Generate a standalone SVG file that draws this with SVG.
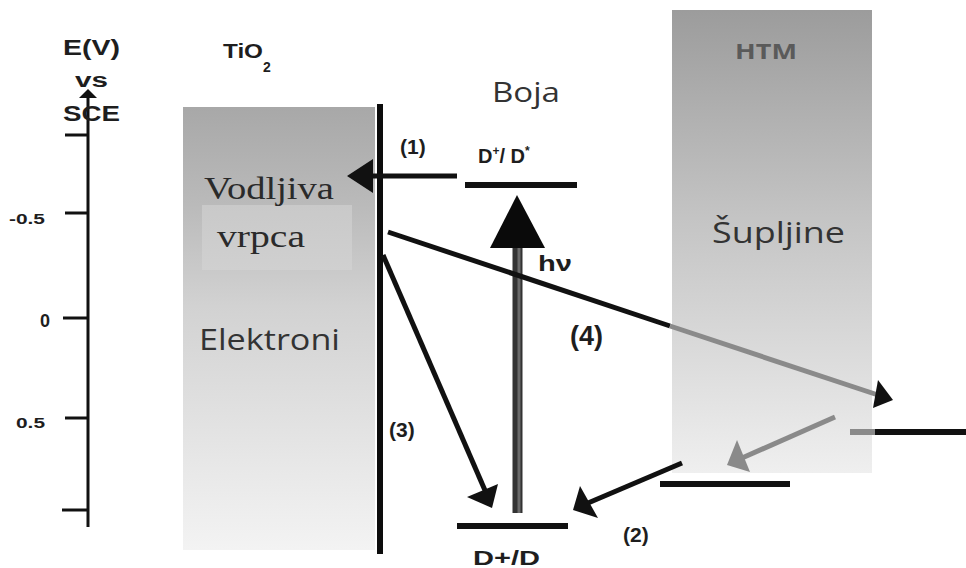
<svg xmlns="http://www.w3.org/2000/svg" width="966" height="568" viewBox="0 0 966 568">
<defs>
<linearGradient id="gTi" x1="0" y1="0" x2="0" y2="1">
<stop offset="0" stop-color="#a8a8a8"/>
<stop offset="0.22" stop-color="#bababa"/>
<stop offset="0.45" stop-color="#d2d2d2"/>
<stop offset="1" stop-color="#f3f3f3"/>
</linearGradient>
<linearGradient id="gHtm" x1="0" y1="0" x2="0" y2="1">
<stop offset="0" stop-color="#9c9c9c"/>
<stop offset="0.45" stop-color="#c4c4c4"/>
<stop offset="1" stop-color="#efefef"/>
</linearGradient>
<linearGradient id="gIn" x1="0" y1="0" x2="0" y2="1">
<stop offset="0" stop-color="#c9c9c9"/>
<stop offset="1" stop-color="#d0d0d0"/>
</linearGradient>
</defs>
<style>
.b{font-family:"Liberation Sans",Arial,sans-serif;font-weight:bold;fill:#1e1e1e}
.c{font-family:"Open Sans","Liberation Sans",sans-serif;fill:#333}
.s{font-family:"Liberation Serif","Times New Roman",serif;fill:#2a2a2a}
.k{stroke:#111;fill:none;stroke-width:5}
.g{stroke:#8a8a8a;fill:none;stroke-width:5}
</style>
<rect width="966" height="568" fill="#fff"/>

<g id="axis">
<line x1="88" y1="96" x2="88" y2="527" stroke="#111" stroke-width="3"/>
<polygon points="88,89 79,98 97,98" fill="#111"/>
<line x1="65" y1="135" x2="88" y2="135" stroke="#111" stroke-width="3"/>
<line x1="65" y1="213" x2="88" y2="213" stroke="#111" stroke-width="3"/>
<line x1="63" y1="318" x2="88" y2="318" stroke="#111" stroke-width="3"/>
<line x1="65" y1="418" x2="88" y2="418" stroke="#111" stroke-width="3"/>
<line x1="62" y1="510" x2="88" y2="510" stroke="#111" stroke-width="3"/>
<text class="b" x="63" y="55" font-size="22" textLength="57" lengthAdjust="spacingAndGlyphs">E(V)</text>
<text class="b" x="75" y="87" font-size="20" textLength="33" lengthAdjust="spacingAndGlyphs">vs</text>
<text class="b" x="63" y="121" font-size="22" textLength="57" lengthAdjust="spacingAndGlyphs">SCE</text>
<text class="b" x="9" y="224" font-size="15" textLength="36" lengthAdjust="spacingAndGlyphs">-0.5</text>
<text class="b" x="40" y="327" font-size="18">0</text>
<text class="b" x="16" y="428" font-size="15" textLength="29" lengthAdjust="spacingAndGlyphs">0.5</text>
</g>

<g id="tio2">
<rect x="183" y="107" width="192" height="443" fill="url(#gTi)"/>
<rect x="202" y="205" width="150" height="65" fill="url(#gIn)"/>
<line x1="380" y1="104" x2="380" y2="554" stroke="#0c0c0c" stroke-width="6"/>
<text class="b" x="223" y="58" font-size="21" textLength="40" lengthAdjust="spacingAndGlyphs">TiO</text>
<text class="b" x="263" y="72" font-size="14">2</text>
<text class="s" x="204" y="199" font-size="31" textLength="130" lengthAdjust="spacingAndGlyphs">Vodljiva</text>
<text class="s" x="217" y="247" font-size="31" textLength="88" lengthAdjust="spacingAndGlyphs">vrpca</text>
<text class="c" x="199" y="350" font-size="30" textLength="141" lengthAdjust="spacingAndGlyphs">Elektroni</text>
</g>

<g id="htm">
<rect x="672" y="10" width="200" height="463" fill="url(#gHtm)"/>
<text class="c" x="735" y="59" font-size="22" style="fill:#5a5a5a;font-weight:bold" textLength="62" lengthAdjust="spacingAndGlyphs">HTM</text>
<text class="c" x="712" y="243" font-size="30" textLength="133" lengthAdjust="spacingAndGlyphs">Šupljine</text>
<line x1="660" y1="484" x2="790" y2="484" stroke="#111" stroke-width="6"/>
</g>

<g id="dye">
<text class="c" x="492" y="102" font-size="28" textLength="68" lengthAdjust="spacingAndGlyphs">Boja</text>
<line x1="465" y1="185" x2="577" y2="185" stroke="#111" stroke-width="6"/>
<text class="b" x="478" y="163" font-size="20">D<tspan font-size="12" dy="-8">+</tspan><tspan dy="8">/ D</tspan><tspan font-size="12" dy="-8">*</tspan></text>
<line x1="457" y1="526" x2="568" y2="526" stroke="#111" stroke-width="6"/>
<text class="b" x="473" y="565" font-size="21" textLength="67" lengthAdjust="spacingAndGlyphs">D+/D</text>
</g>

<g id="right-level">
<line x1="850" y1="432" x2="875" y2="432" stroke="#8a8a8a" stroke-width="6"/>
<line x1="875" y1="432" x2="966" y2="432" stroke="#111" stroke-width="6"/>
</g>

<g id="connectors">
<line class="k" x1="457" y1="176" x2="368" y2="176" stroke-width="6"/>
<polygon points="347,176 373,159 373,193" fill="#111"/>
<text class="b" x="400" y="154" font-size="21">(1)</text>
<line x1="517.5" y1="513" x2="517.5" y2="245" stroke="#333" stroke-width="10"/>
<line x1="519" y1="513" x2="519" y2="245" stroke="#6a6a6a" stroke-width="3"/>
<polygon points="517,195 490,248 545,248" fill="#0a0a0a"/>
<text class="b" x="538" y="271" font-size="22" textLength="34" lengthAdjust="spacingAndGlyphs">hν</text>
<line class="k" x1="388" y1="232" x2="670" y2="326"/>
<line class="g" x1="670" y1="326" x2="878" y2="395"/>
<polygon points="893,400 873,408 878,380" fill="#111"/>
<text class="b" x="570" y="345" font-size="27">(4)</text>
<line class="k" x1="383" y1="255" x2="487" y2="495"/>
<polygon points="492,508 467,497 498,484" fill="#111"/>
<text class="b" x="389" y="437" font-size="21">(3)</text>
<line class="k" x1="682" y1="463" x2="588" y2="503"/>
<polygon points="573,510 580,486 598,518" fill="#111"/>
<text class="b" x="623" y="542" font-size="21">(2)</text>
<line class="g" x1="835" y1="417" x2="742" y2="458"/>
<polygon points="727,465 737,440 750,472" fill="#8a8a8a"/>
</g>
</svg>
